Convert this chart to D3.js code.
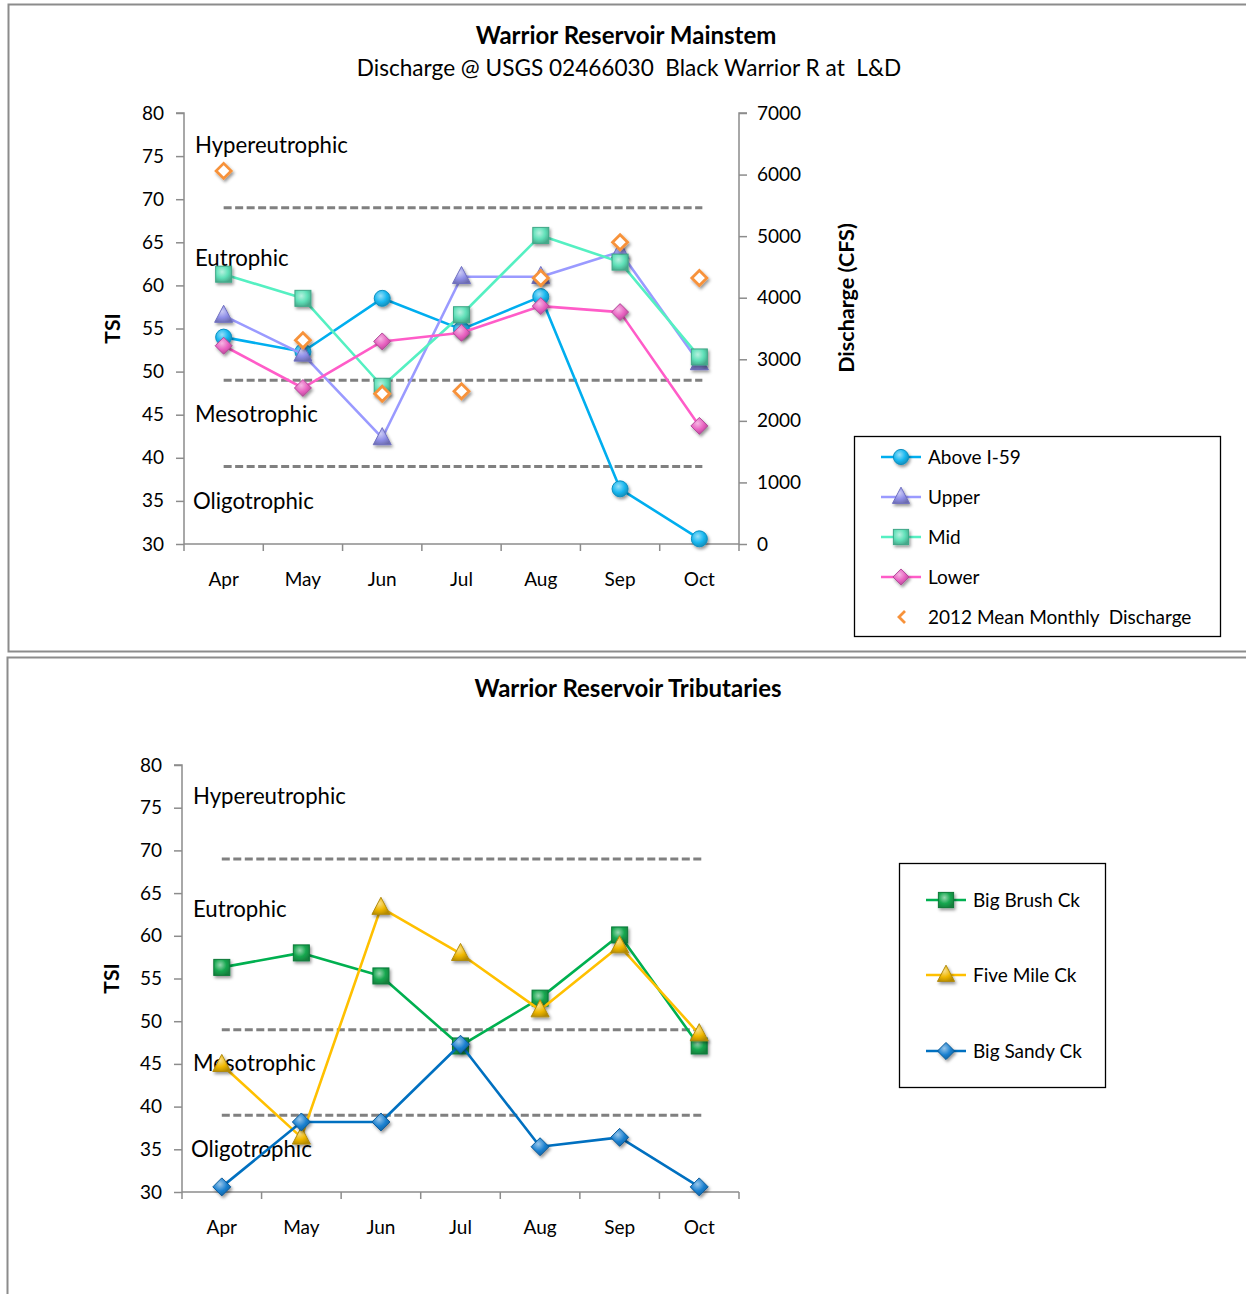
<!DOCTYPE html>
<html>
<head>
<meta charset="utf-8">
<script src="https://cdn.jsdelivr.net/npm/d3@7"></script>
<style>
  html, body { margin: 0; padding: 0; background: #fff; }
  svg { display: block; font-family: Lato, "Open Sans", sans-serif; }
  text { white-space: pre; }
</style>
</head>
<body>
<svg id="chart" width="1246" height="1294"></svg>
<script>
// Months sampled
const months = ["Apr", "May", "Jun", "Jul", "Aug", "Sep", "Oct"];

// Mainstem TSI by station
const aboveI59 = [54.0, 52.3, 58.5, 54.9, 58.7, 36.4, 30.6];
const upper    = [56.5, 52.0, 42.3, 61.0, 61.0, 63.9, 51.0];
const mid      = [61.3, 58.5, 48.3, 56.6, 65.8, 62.7, 51.7];
const lower    = [53.0, 48.1, 53.5, 54.5, 57.6, 56.9, 43.7];

// 2012 mean monthly discharge (CFS), USGS 02466030
const discharge2012 = [6060, 3310, 2440, 2480, 4320, 4900, 4320];

// Tributary TSI
const bigBrush = [56.3, 58.0, 55.3, 47.1, 52.7, 60.1, 47.1];
const fiveMile = [44.9, 36.4, 63.3, 57.9, 51.3, 58.8, 48.5];
const bigSandy = [30.6, 38.2, 38.2, 47.3, 35.3, 36.4, 30.6];

// Trophic state class boundaries and names
const tsiBoundaries = [69, 49, 39];
const tsiClasses = ["Hypereutrophic", "Eutrophic", "Mesotrophic", "Oligotrophic"];

// Axis ticks
const tsiTicks = [30, 35, 40, 45, 50, 55, 60, 65, 70, 75, 80];
const cfsTicks = [0, 1000, 2000, 3000, 4000, 5000, 6000, 7000];

const svg = d3.select("#chart");
const defs = svg.append("defs");

// soft shadow under markers
const sh = defs.append("filter").attr("id", "shadow")
  .attr("x", "-50%").attr("y", "-50%").attr("width", "200%").attr("height", "200%");
sh.append("feDropShadow").attr("dx", 1.5).attr("dy", 2.2).attr("stdDeviation", 1.8)
  .attr("flood-color", "#000").attr("flood-opacity", 0.4);

function shade(id, base) {
  const c = d3.color(base);
  const g = defs.append("radialGradient").attr("id", id)
    .attr("cx", "40%").attr("cy", "35%").attr("r", "70%");
  g.append("stop").attr("offset", "0%").attr("stop-color", d3.interpolateRgb(base, "#fff")(0.55));
  g.append("stop").attr("offset", "55%").attr("stop-color", base);
  g.append("stop").attr("offset", "100%").attr("stop-color", c.darker(0.8));
  return `url(#${id})`;
}

// panel frames
svg.append("rect").attr("x", 8.5).attr("y", 4.5).attr("width", 1250).attr("height", 647)
  .attr("fill", "#fff").attr("stroke", "#8c8c8c").attr("stroke-width", 2);
svg.append("rect").attr("x", 7.5).attr("y", 657.5).attr("width", 1250).attr("height", 660)
  .attr("fill", "#fff").attr("stroke", "#8c8c8c").attr("stroke-width", 2);

function drawMarker(g, shape, x, y, fill, stroke, size) {
  if (shape === "diamond") {
    const s = size;
    g.append("path")
      .attr("d", `M${x},${y - s}L${x + s},${y}L${x},${y + s}L${x - s},${y}Z`)
      .attr("fill", fill).attr("stroke", stroke).attr("stroke-width", 1)
      .attr("filter", "url(#shadow)");
  } else if (shape === "square") {
    g.append("rect").attr("x", x - size).attr("y", y - size)
      .attr("width", size * 2).attr("height", size * 2)
      .attr("fill", fill).attr("stroke", stroke).attr("stroke-width", 1)
      .attr("filter", "url(#shadow)");
  } else if (shape === "triangle") {
    g.append("path")
      .attr("d", `M${x},${y - size * 1.15}L${x + size},${y + size * 0.75}L${x - size},${y + size * 0.75}Z`)
      .attr("fill", fill).attr("stroke", stroke).attr("stroke-width", 1)
      .attr("filter", "url(#shadow)");
  } else {
    g.append("circle").attr("cx", x).attr("cy", y).attr("r", size)
      .attr("fill", fill).attr("stroke", stroke).attr("stroke-width", 1)
      .attr("filter", "url(#shadow)");
  }
}

function drawPanel(opt) {
  const { left, right, top, bottom } = opt;
  const g = svg.append("g");

  const x = d3.scaleBand().domain(months).range([left, right]).padding(0);
  const y = d3.scaleLinear().domain([30, 80]).range([bottom, top]);
  const cx = m => x(m) + x.bandwidth() / 2;

  // left axis
  const ya = g.append("g").attr("transform", `translate(${left},0)`)
    .call(d3.axisLeft(y).tickValues(tsiTicks).tickSize(8).tickPadding(12));
  ya.select(".domain").attr("stroke", "#8c8c8c").attr("stroke-width", 1.5)
    .attr("d", `M-8,${top}H0V${bottom}`);
  ya.selectAll(".tick line").attr("stroke", "#8c8c8c").attr("stroke-width", 1.5);
  ya.selectAll(".tick text").attr("font-size", 19).attr("fill", "#000")
    .attr("font-family", "Lato, sans-serif");

  // bottom axis: tick marks between categories, labels centred
  const xa = g.append("g").attr("transform", `translate(0,${bottom})`)
    .call(d3.axisBottom(x).tickSize(0).tickPadding(29));
  xa.select(".domain").attr("stroke", "#8c8c8c").attr("stroke-width", 1.5)
    .attr("d", `M${left},0H${right}`);
  xa.selectAll(".tick text").attr("font-size", 19).attr("fill", "#000")
    .attr("font-family", "Lato, sans-serif");
  const bounds = months.map(m => x(m)).concat([right]);
  xa.selectAll(".bound").data(bounds).join("line").attr("class", "bound")
    .attr("x1", d => d).attr("x2", d => d).attr("y1", 0).attr("y2", 7)
    .attr("stroke", "#8c8c8c").attr("stroke-width", 1.5);

  // trophic class boundaries
  g.selectAll(".bnd").data(tsiBoundaries).join("line").attr("class", "bnd")
    .attr("x1", cx(months[0])).attr("x2", cx(months[months.length - 1]) + 3)
    .attr("y1", d => y(d)).attr("y2", d => y(d))
    .attr("stroke", "#808080").attr("stroke-width", 3).attr("stroke-dasharray", "8,3.5");

  // class labels
  const labelAt = [76.3, 63.1, 45.1, 35.0];
  const labelDx = [11, 11, 11, 9];
  g.selectAll(".cls").data(tsiClasses).join("text").attr("class", "cls")
    .attr("x", (d, i) => left + labelDx[i]).attr("y", (d, i) => y(labelAt[i]))
    .attr("dy", "0.35em").attr("font-size", 22.2).attr("fill", "#000").text(d => d);

  // TSI title
  g.append("text")
    .attr("transform", `translate(${opt.tsiX},${(top + bottom) / 2}) rotate(-90)`)
    .attr("text-anchor", "middle").attr("dy", "0.35em")
    .attr("font-size", 21).attr("font-weight", "bold").text("TSI");

  return { g, x, y, cx };
}

function drawSeries(p, s, yScale) {
  const ys = yScale || p.y;
  const pts = months.map((m, i) => [p.cx(m), ys(s.values[i])]);
  if (s.line) {
    p.g.append("path").attr("d", d3.line()(pts))
      .attr("fill", "none").attr("stroke", s.color).attr("stroke-width", 2.6)
      .attr("stroke-linejoin", "round");
  }
  const mg = p.g.append("g");
  pts.forEach(([px, py]) => {
    if (s.shape === "hollow") {
      mg.append("path")
        .attr("d", `M${px},${py - 7.5}L${px + 7.5},${py}L${px},${py + 7.5}L${px - 7.5},${py}Z`)
        .attr("fill", "#fff").attr("stroke", s.color).attr("stroke-width", 2.8)
        .attr("filter", "url(#shadow)");
    } else {
      drawMarker(mg, s.shape, px, py, s.fill, s.edge, s.size);
    }
  });
}

function drawLegend(box, entries, rowY) {
  const g = svg.append("g");
  g.append("rect").attr("x", box.x + 0.5).attr("y", box.y + 0.5)
    .attr("width", box.w).attr("height", box.h)
    .attr("fill", "#fff").attr("stroke", "#000").attr("stroke-width", 1.3);
  entries.forEach((s, i) => {
    const yy = rowY[i];
    const x0 = box.x + 27;
    if (s.line) {
      g.append("line").attr("x1", x0).attr("x2", x0 + 40).attr("y1", yy).attr("y2", yy)
        .attr("stroke", s.color).attr("stroke-width", 2.6);
    }
    if (s.shape === "hollow") {
      const px = x0 + 20;
      g.append("path")
        .attr("d", `M${px + 4},${yy - 6}L${px - 2},${yy}L${px + 4},${yy + 6}`)
        .attr("fill", "none").attr("stroke", s.color).attr("stroke-width", 2.8);
    } else {
      drawMarker(g, s.shape, x0 + 20, yy, s.fill, s.edge, s.size * 0.95);
    }
    g.append("text").attr("x", x0 + 47).attr("y", yy).attr("dy", "0.35em")
      .attr("font-size", 19).attr("fill", "#000").text(s.name);
  });
}

// ---------- Mainstem ----------
svg.append("text").attr("x", 626).attr("y", 36).attr("dy", "0.35em")
  .attr("text-anchor", "middle").attr("font-size", 24).attr("font-weight", "bold")
  .text("Warrior Reservoir Mainstem");
svg.append("text").attr("x", 629).attr("y", 68).attr("dy", "0.35em")
  .attr("text-anchor", "middle").attr("font-size", 22.6)
  .text("Discharge @ USGS 02466030  Black Warrior R at  L&D");

const p1 = drawPanel({ left: 184, right: 739, top: 113, bottom: 544, tsiX: 113 });

const cfs = d3.scaleLinear().domain([0, 7000]).range([544, 113]);
const ra = p1.g.append("g").attr("transform", "translate(739,0)")
  .call(d3.axisRight(cfs).tickValues(cfsTicks).tickFormat(d3.format("d")).tickSize(8).tickPadding(10));
ra.select(".domain").attr("stroke", "#8c8c8c").attr("stroke-width", 1.5)
  .attr("d", `M8,113H0V544`);
ra.selectAll(".tick line").attr("stroke", "#8c8c8c").attr("stroke-width", 1.5);
ra.selectAll(".tick text").attr("font-size", 19).attr("fill", "#000")
  .attr("font-family", "Lato, sans-serif");
p1.g.append("text")
  .attr("transform", `translate(846,298) rotate(-90)`)
  .attr("text-anchor", "middle").attr("dy", "0.35em")
  .attr("font-size", 21.5).attr("font-weight", "bold").text("Discharge (CFS)");

const mainSeries = [
  { name: "Above I-59", values: aboveI59, color: "#00aeef", fill: shade("gA", "#1ab8f0"), edge: "#0a8fc0", shape: "circle", size: 8, line: true },
  { name: "Upper", values: upper, color: "#9a9aff", fill: shade("gU", "#8f8fe8"), edge: "#7070c0", shape: "triangle", size: 9, line: true },
  { name: "Mid", values: mid, color: "#55f0c2", fill: shade("gM", "#5fe0b8"), edge: "#40a888", shape: "square", size: 8, line: true },
  { name: "Lower", values: lower, color: "#ff5cc8", fill: shade("gL", "#e860c0"), edge: "#b04a98", shape: "diamond", size: 8.5, line: true }
];
const dischargeSeries = { name: "2012 Mean Monthly  Discharge", values: discharge2012, color: "#f7923a", shape: "hollow", line: false };

mainSeries.forEach(s => drawSeries(p1, s));
drawSeries(p1, dischargeSeries, cfs);

drawLegend({ x: 854, y: 436, w: 366, h: 200 }, mainSeries.concat([dischargeSeries]), [457, 497, 537, 577, 617]);

// ---------- Tributaries ----------
svg.append("text").attr("x", 628).attr("y", 689).attr("dy", "0.35em")
  .attr("text-anchor", "middle").attr("font-size", 24).attr("font-weight", "bold")
  .text("Warrior Reservoir Tributaries");

const p2 = drawPanel({ left: 182, right: 739, top: 765, bottom: 1192, tsiX: 112 });

const tribSeries = [
  { name: "Big Brush Ck", values: bigBrush, color: "#00b050", fill: shade("gB", "#18a850"), edge: "#0a7a38", shape: "square", size: 8, line: true },
  { name: "Five Mile Ck", values: fiveMile, color: "#ffc000", fill: shade("gF", "#f0b800"), edge: "#b08a10", shape: "triangle", size: 9, line: true },
  { name: "Big Sandy Ck", values: bigSandy, color: "#0070c0", fill: shade("gS", "#1a80d0"), edge: "#0a5a98", shape: "diamond", size: 9, line: true }
];
tribSeries.forEach(s => drawSeries(p2, s));

drawLegend({ x: 899, y: 863, w: 206, h: 224 }, tribSeries, [900, 975, 1051]);
</script>
</body>
</html>
